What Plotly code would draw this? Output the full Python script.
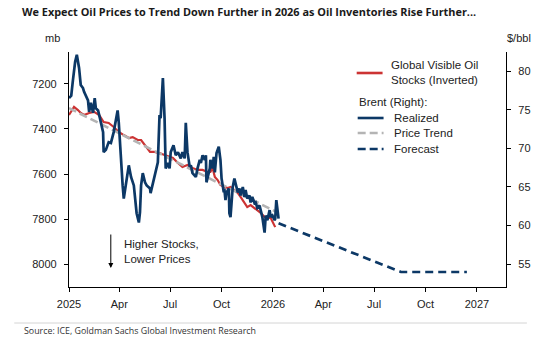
import plotly.graph_objects as go

# ---- data -------------------------------------------------------------
# Brent, realized ($/bbl, right axis)
brent_dates = [
    "2025-01-01", "2025-01-05", "2025-01-08", "2025-01-12", "2025-01-15", "2025-01-17",
    "2025-01-19", "2025-01-22", "2025-01-26", "2025-01-28", "2025-01-31", "2025-02-04",
    "2025-02-06", "2025-02-09", "2025-02-13", "2025-02-16", "2025-02-18", "2025-02-22",
    "2025-02-25", "2025-03-03", "2025-03-04", "2025-03-08", "2025-03-13", "2025-03-17",
    "2025-03-22", "2025-03-26", "2025-03-29", "2025-03-31", "2025-04-04", "2025-04-07",
    "2025-04-09", "2025-04-13", "2025-04-18", "2025-04-22", "2025-04-27", "2025-05-02",
    "2025-05-06", "2025-05-08", "2025-05-10", "2025-05-13", "2025-05-17", "2025-05-20",
    "2025-05-26", "2025-05-27", "2025-06-02", "2025-06-05", "2025-06-09", "2025-06-12",
    "2025-06-14", "2025-06-18", "2025-06-21", "2025-06-23", "2025-06-27", "2025-06-30",
    "2025-07-02", "2025-07-07", "2025-07-11", "2025-07-15", "2025-07-20", "2025-07-23",
    "2025-07-27", "2025-07-29", "2025-08-01", "2025-08-05", "2025-08-07", "2025-08-10",
    "2025-08-16", "2025-08-19", "2025-08-23", "2025-08-25", "2025-08-28", "2025-09-01",
    "2025-09-03", "2025-09-04", "2025-09-10", "2025-09-11", "2025-09-15", "2025-09-17",
    "2025-09-19", "2025-09-22", "2025-09-26", "2025-09-29", "2025-10-01", "2025-10-05",
    "2025-10-06", "2025-10-08", "2025-10-10", "2025-10-14", "2025-10-15", "2025-10-17",
    "2025-10-21", "2025-10-24", "2025-10-26", "2025-10-30", "2025-11-02", "2025-11-04",
    "2025-11-08", "2025-11-11", "2025-11-13", "2025-11-16", "2025-11-20", "2025-11-22",
    "2025-11-25", "2025-11-29", "2025-12-01", "2025-12-04", "2025-12-08", "2025-12-10",
    "2025-12-13", "2025-12-17", "2025-12-19", "2025-12-22", "2025-12-26", "2025-12-28",
    "2025-12-31", "2026-01-04", "2026-01-05", "2026-01-07", "2026-01-09", "2026-01-11",
]
brent_price = [
    76.5, 76.8, 78.8, 81.2, 82.1, 81.2,
    80.4, 78.2, 77.8, 77.3, 76.9, 76.2,
    74.7, 75.9, 74.6, 76.5, 75.2, 74.9,
    74.0, 72.1, 69.5, 69.8, 70.8, 70.7,
    72.1, 73.9, 74.9, 73.4, 68.2, 65.2,
    63.5, 65.6, 67.8, 66.3, 65.2, 61.6,
    60.4, 61.7, 65.2, 66.8, 65.6, 65.2,
    64.8, 64.2, 66.1, 66.9, 68.2, 74.3,
    73.9, 79.1, 73.9, 67.4, 68.1, 67.4,
    69.5, 70.4, 69.1, 69.5, 68.7, 69.5,
    68.7, 73.3, 69.5, 67.6, 67.8, 66.8,
    66.3, 67.4, 68.5, 68.1, 69.1, 68.5,
    69.1, 65.6, 67.4, 68.5, 67.4, 68.9,
    66.9, 69.4, 70.2, 68.5, 66.1, 64.3,
    64.8, 63.3, 64.3, 64.8, 61.6, 61.1,
    65.0, 66.1, 65.6, 64.3, 64.8, 63.9,
    65.0, 63.7, 64.6, 63.5, 63.9, 63.0,
    63.7, 62.9, 63.0, 62.3, 62.6, 62.0,
    61.1, 59.1, 61.3, 60.7, 62.0, 61.1,
    61.3, 60.7, 60.9, 63.3, 62.0, 60.9,
]

# Global visible oil stocks (mb, left axis, inverted)
stock_dates = [
    "2025-01-01", "2025-01-10", "2025-01-17", "2025-01-22", "2025-01-28", "2025-02-06",
    "2025-02-15", "2025-02-24", "2025-03-04", "2025-03-13", "2025-03-22", "2025-03-31",
    "2025-04-09", "2025-04-18", "2025-04-25", "2025-05-04", "2025-05-10", "2025-05-17",
    "2025-05-26", "2025-06-03", "2025-06-12", "2025-06-21", "2025-06-30", "2025-07-06",
    "2025-07-15", "2025-07-23", "2025-08-01", "2025-08-10", "2025-08-19", "2025-08-28",
    "2025-09-06", "2025-09-11", "2025-09-15", "2025-09-19", "2025-09-24", "2025-09-29",
    "2025-10-06", "2025-10-12", "2025-10-17", "2025-10-24", "2025-10-30", "2025-11-04",
    "2025-11-11", "2025-11-16", "2025-11-22", "2025-11-29", "2025-12-04", "2025-12-10",
    "2025-12-17", "2025-12-22", "2025-12-28", "2026-01-04", "2026-01-05",
]
stock_mb = [
    7338, 7302, 7316, 7329, 7338, 7329,
    7324, 7338, 7369, 7373, 7391, 7413,
    7427, 7440, 7436, 7449, 7449, 7471,
    7502, 7502, 7507, 7516, 7524, 7529,
    7551, 7569, 7560, 7573, 7582, 7582,
    7591, 7591, 7573, 7613, 7627, 7649,
    7658, 7662, 7658, 7671, 7684, 7702,
    7729, 7747, 7738, 7751, 7760, 7773,
    7791, 7791, 7796, 7827, 7836,
]

# Brent price trend and forecast ($/bbl)
trend_dates = ["2025-01-01", "2026-01-09"]
trend_price = [75.2, 61.7]
forecast_dates = ["2026-01-11", "2026-08-18", "2026-12-14"]
forecast_price = [60.3, 54.0, 54.0]

# axis ticks
x_tickvals = ["2025-01-01", "2025-04-01", "2025-07-01", "2025-10-01", "2026-01-01",
              "2026-04-01", "2026-07-01", "2026-10-01", "2027-01-01"]
x_ticktext = ["2025", "Apr", "Jul", "Oct", "2026", "Apr", "Jul", "Oct", "2027"]
left_ticks = [7200, 7400, 7600, 7800, 8000]
right_ticks = [55, 60, 65, 70, 75, 80]

NAVY = "#0c3866"
RED = "#cc3333"
GREY = "#b4b4b4"
FONT = "Liberation Sans, Arial, sans-serif"

fig = go.Figure()
fig.add_trace(go.Scatter(x=trend_dates, y=trend_price, yaxis="y2", mode="lines",
                         line=dict(color=GREY, width=2.6, dash="8px,4px")))
fig.add_trace(go.Scatter(x=stock_dates, y=stock_mb, yaxis="y", mode="lines",
                         line=dict(color=RED, width=2.2)))
fig.add_trace(go.Scatter(x=brent_dates, y=brent_price, yaxis="y2", mode="lines",
                         line=dict(color=NAVY, width=2.7)))
fig.add_trace(go.Scatter(x=forecast_dates, y=forecast_price, yaxis="y2", mode="lines",
                         line=dict(color=NAVY, width=2.7, dash="8px,5px")))

axis_common = dict(showgrid=False, zeroline=False, showline=True, linecolor="black",
                   linewidth=1.2, ticks="outside", ticklen=4, tickcolor="black",
                   tickfont=dict(family=FONT, size=11, color="#222"))

fig.update_layout(
    width=543, height=346,
    margin=dict(l=69, r=35, t=52, b=59),
    paper_bgcolor="white", plot_bgcolor="white",
    showlegend=False,
    font=dict(family=FONT, size=11, color="#222"),
    title=dict(text="<b>We Expect Oil Prices to Trend Down Further in 2026 as Oil Inventories Rise Further...</b>",
               x=22 / 543, xanchor="left", y=1 - 12 / 346, yanchor="middle",
               font=dict(family="Open Sans, sans-serif", size=10.9, color="#1a1a1a")),
    xaxis=dict(axis_common, type="date", range=["2025-01-01", "2027-02-22"],
               tickvals=x_tickvals, ticktext=x_ticktext, ticklabelstandoff=3),
    yaxis=dict(axis_common, range=[8102, 7058], tickvals=left_ticks,
               ticklabelstandoff=5),
    yaxis2=dict(axis_common, overlaying="y", side="right", range=[52.06, 82.46],
                tickvals=right_ticks, ticklabelstandoff=5),
)

def px_x(p):
    return (p - 69) / 439

def px_y(p):
    return (287 - p) / 235

# legend swatches and labels
legend_rows = [
    (73, RED, None),
    (118, NAVY, None),
    (133, GREY, "dash"),
    (149, NAVY, "dash"),
]
for ypix, col, dash in legend_rows:
    x0 = 358 if ypix == 73 else 359
    fig.add_shape(type="line", xref="paper", yref="paper",
                  x0=px_x(x0), x1=px_x(x0 + 26), y0=px_y(ypix), y1=px_y(ypix),
                  line=dict(color=col, width=2.6, dash="8px,4px" if dash else None))

legend_text = [
    (390, 72, "Global Visible Oil<br>Stocks (Inverted)"),
    (358, 102, "Brent (Right):"),
    (393, 118, "Realized"),
    (393, 133, "Price Trend"),
    (393, 149, "Forecast"),
]
for xpix, ypix, txt in legend_text:
    fig.add_annotation(xref="paper", yref="paper", x=px_x(xpix), y=px_y(ypix),
                       xanchor="left", yanchor="middle", align="left", showarrow=False,
                       text=txt, font=dict(family=FONT, size=11.5, color="#222"))

# axis unit labels
fig.add_annotation(xref="paper", yref="paper", x=px_x(52), y=px_y(38), text="mb",
                   showarrow=False, xanchor="center", yanchor="middle",
                   font=dict(family=FONT, size=11, color="#222"))
fig.add_annotation(xref="paper", yref="paper", x=px_x(521), y=px_y(38), text="$/bbl",
                   showarrow=False, xanchor="center", yanchor="middle",
                   font=dict(family=FONT, size=11, color="#222"))

# direction note
fig.add_annotation(xref="paper", yref="paper", x=px_x(111), y=px_y(268),
                   ax=0, ay=-35, showarrow=True, arrowhead=2, arrowsize=1,
                   arrowwidth=1, arrowcolor="black", text="")
fig.add_annotation(xref="paper", yref="paper", x=px_x(122), y=px_y(251),
                   xanchor="left", yanchor="middle", align="left", showarrow=False,
                   text="Higher Stocks,<br>Lower Prices",
                   font=dict(family=FONT, size=11.5, color="#222"))

# footer rule and source
fig.add_shape(type="line", xref="paper", yref="paper", x0=px_x(14), x1=px_x(529),
              y0=px_y(323), y1=px_y(323), line=dict(color="#d4d4d4", width=1))
fig.add_annotation(xref="paper", yref="paper", x=px_x(22), y=px_y(331),
                   xanchor="left", yanchor="middle", showarrow=False,
                   text="Source: ICE, Goldman Sachs Global Investment Research",
                   font=dict(family="Open Sans, sans-serif", size=8.85, color="#333"))

fig.write_html("out.html")
